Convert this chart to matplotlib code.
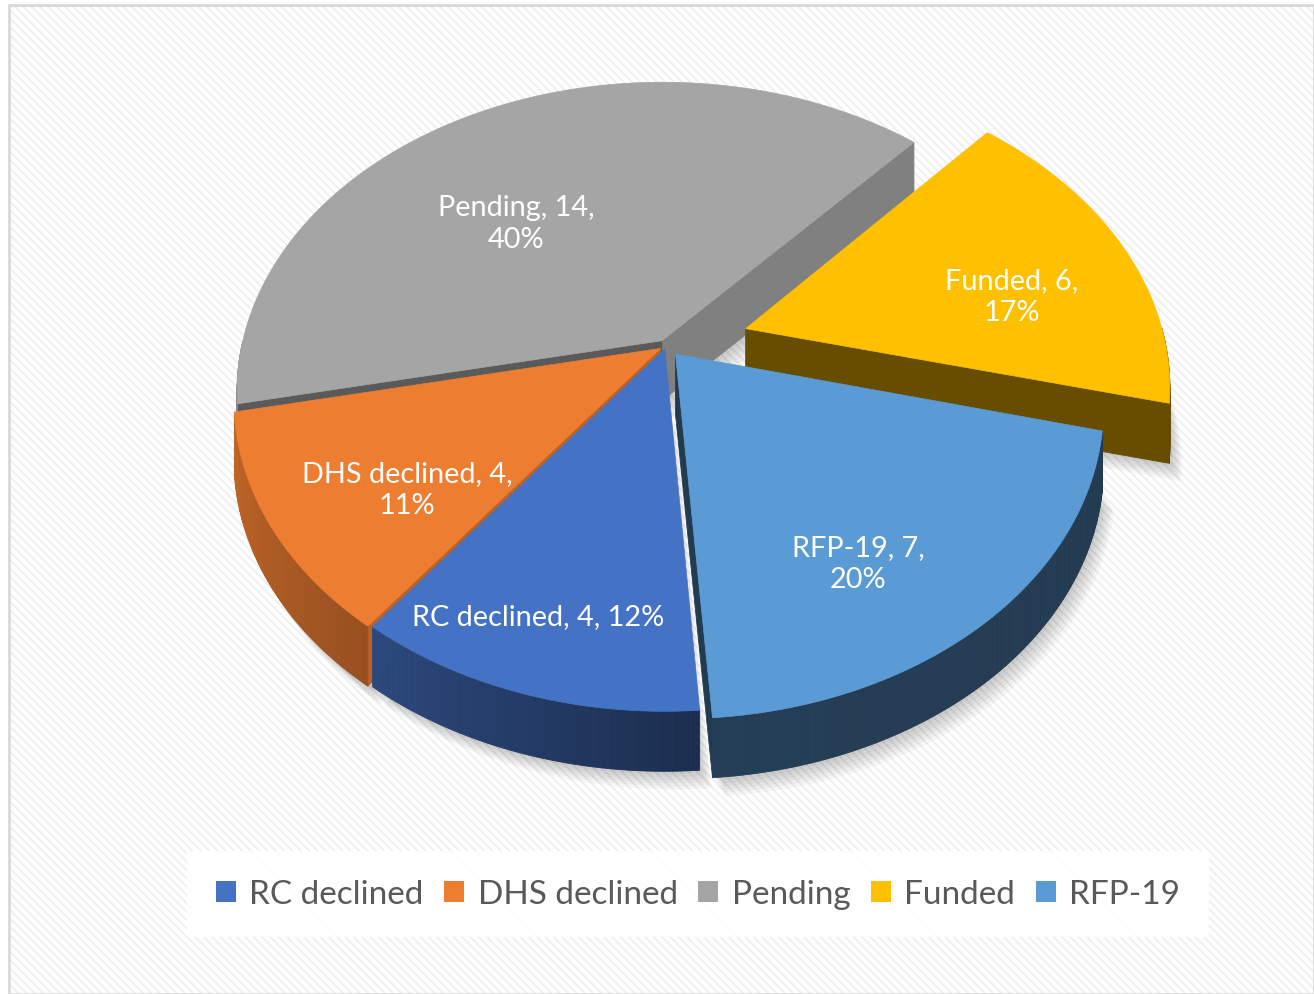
import numpy as np
import matplotlib
matplotlib.use('Agg')
import matplotlib.pyplot as plt
from matplotlib.patches import Polygon, Rectangle
from matplotlib import colors as mcolors

# data
categories = ['RC declined', 'DHS declined', 'Pending', 'Funded', 'RFP-19']
counts = [4, 4, 14, 6, 7]
percents = ['12%', '11%', '40%', '17%', '20%']
top_colors = ['#4472C4', '#ED7D31', '#A5A5A5', '#FFC000', '#5B9BD5']
explode = [0.01, 0.015, 0.02, 0.2, 0.035]
label_texts = ['RC declined, 4, 12%', 'DHS declined, 4,\n11%', 'Pending, 14,\n40%',
               'Funded, 6,\n17%', 'RFP-19, 7,\n20%']
label_xy = [(538, 617), (407, 490), (516, 224), (1012, 297), (858, 564)]

W, H = 1314, 995
plt.rcParams['font.family'] = ['Lato', 'DejaVu Sans']

# view of the tilted disc (pixel space)
cx, cy = 666, 347
elev = np.radians(46)
D = 4.26
F = 1790
T = 60  # thickness in px
start_angle = -86.0


def proj(x, y):
    d = D + y * np.cos(elev)
    return cx + F * x / d, cy - F * y * np.sin(elev) / d


def shade(col, f):
    r, g, b = mcolors.to_rgb(col)
    return (r * f, g * f, b * f)


def outer_factor(phi):
    return np.interp(phi, [-180, -168, -127, -86, 0], [0.85, 0.82, 0.64, 0.40, 0.38])


def radial_factor(phi):
    return np.interp(phi, [-180, -100, -78, -42, 0], [0.38, 0.40, 0.55, 0.78, 0.85])


fig = plt.figure(figsize=(W / 100, H / 100), dpi=100)
ax = fig.add_axes([0, 0, 1, 1])
ax.set_xlim(0, W)
ax.set_ylim(H, 0)
ax.axis('off')

# background
plt.rcParams['hatch.linewidth'] = 1.2
ax.add_patch(Rectangle((9, 6), W - 9, H - 6, facecolor='white', edgecolor='#eeeeee',
                       hatch='\\\\\\\\', linewidth=0, zorder=0))
ax.add_patch(Rectangle((9, 6), W - 9, H - 6, facecolor='none', edgecolor='#d9d9d9',
                       linewidth=2, zorder=1))

total = float(sum(counts))
walls = []
tops = []
shadows = []
a0 = start_angle
for i, v in enumerate(counts):
    span = v / total * 360.0
    a1 = a0 - span
    mid = np.radians((a0 + a1) / 2)
    ox, oy = explode[i] * np.cos(mid), explode[i] * np.sin(mid)
    ts = np.radians(np.linspace(a0, a1, max(int(span * 2), 4)))
    ax_pts = ox + np.cos(ts)
    ay_pts = oy + np.sin(ts)
    apex = proj(ox, oy)
    arc = [proj(x, y) for x, y in zip(ax_pts, ay_pts)]
    top = [apex] + arc
    tops.append((top, top_colors[i]))
    shadows.append(top)

    # outer wall segments
    for k in range(len(ts) - 1):
        tm = (ts[k] + ts[k + 1]) / 2
        pm = proj(ox + np.cos(tm), oy + np.sin(tm))
        po = proj(ox + 1.01 * np.cos(tm), oy + 1.01 * np.sin(tm))
        if po[1] > pm[1]:
            p, q = arc[k], arc[k + 1]
            quad = [p, q, (q[0], q[1] + T), (p[0], p[1] + T)]
            phi = np.degrees(np.arctan2(np.sin(tm), np.cos(tm)))
            walls.append((max(p[1], q[1]), quad, shade(top_colors[i], outer_factor(phi))))

    # radial faces
    for ang, nrm in [(a0, a0 + 90), (a1, a1 - 90)]:
        ra, rn = np.radians(ang), np.radians(nrm)
        mx, my = ox + 0.5 * np.cos(ra), oy + 0.5 * np.sin(ra)
        pm = proj(mx, my)
        po = proj(mx + 0.01 * np.cos(rn), my + 0.01 * np.sin(rn))
        if po[1] > pm[1]:
            q = proj(ox + np.cos(ra), oy + np.sin(ra))
            quad = [apex, q, (q[0], q[1] + T), (apex[0], apex[1] + T)]
            phi = (nrm + 180) % 360 - 180
            walls.append((max(apex[1], q[1]) - 1, quad, shade(top_colors[i], radial_factor(phi))))
    a0 = a1

# soft shadow under the pie
for k in range(1, 7):
    for pts in shadows:
        sh = [(x + 2 * k, y + T + 3 * k) for x, y in pts]
        ax.add_patch(Polygon(sh, closed=True, facecolor='black', edgecolor='none',
                             alpha=0.035, zorder=2))

walls.sort(key=lambda w: w[0])
for j, (_, quad, col) in enumerate(walls):
    ax.add_patch(Polygon(quad, closed=True, facecolor=col, edgecolor=col,
                         linewidth=0.6, zorder=3 + j * 1e-4))

for top, col in tops:
    ax.add_patch(Polygon(top, closed=True, facecolor=col, edgecolor=col,
                         linewidth=0.5, zorder=5))

for txt, (lx, ly) in zip(label_texts, label_xy):
    ax.text(lx, ly, txt, ha='center', va='center', color='white', fontsize=20.8,
            linespacing=1.3, zorder=6)

handles = [Rectangle((0, 0), 1, 1, facecolor=c, edgecolor='none') for c in top_colors]
leg = fig.legend(handles, categories, loc='center', ncol=5,
                 bbox_to_anchor=(698 / W, 1 - 895 / H), frameon=True, fancybox=False,
                 fontsize=24, handlelength=0.6, handleheight=0.6, handletextpad=0.4,
                 columnspacing=0.62, borderpad=0.85, labelcolor='#595959')
leg.get_frame().set_facecolor('white')
leg.get_frame().set_edgecolor('none')
leg.get_frame().set_alpha(0.9)

fig.savefig('out.png', dpi=100)
